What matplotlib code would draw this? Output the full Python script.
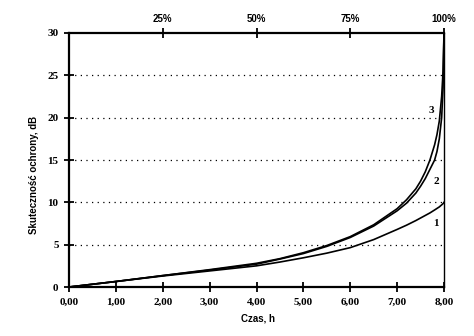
import matplotlib
matplotlib.use("Agg")
import matplotlib.pyplot as plt
from matplotlib.ticker import FixedLocator

# czas pracy, h
czas = [0.0, 1.0, 2.0, 3.0, 4.0, 4.5, 5.0, 5.5, 6.0, 6.5, 7.0, 7.2, 7.4, 7.5,
        7.6, 7.7, 7.8, 7.85, 7.9, 7.95, 7.98, 8.0]
# skutecznosc ochrony, dB
krzywa_1 = [0.0, 0.65, 1.3, 1.9, 2.5, 2.95, 3.45, 4.0, 4.65, 5.6, 6.8, 7.3, 7.85, 8.15,
            8.45, 8.75, 9.1, 9.28, 9.46, 9.7, 9.85, 10.0]
krzywa_2 = [0.0, 0.65, 1.35, 2.0, 2.7, 3.3, 3.95, 4.8, 5.85, 7.2, 9.0, 9.9, 11.1, 11.9,
            12.8, 13.9, 15.0, 16.0, 17.5, 20.0, 23.5, 30.0]
krzywa_3 = [0.0, 0.65, 1.35, 2.05, 2.8, 3.35, 4.05, 4.9, 5.95, 7.35, 9.25, 10.3, 11.6, 12.5,
            13.6, 15.0, 16.8, 18.0, 19.6, 22.5, 25.5, 30.0]

x_ticks = [0, 1, 2, 3, 4, 5, 6, 7, 8]
x_labels = ["0,00", "1,00", "2,00", "3,00", "4,00", "5,00", "6,00", "7,00", "8,00"]
y_ticks = [0, 5, 10, 15, 20, 25, 30]
top_ticks = [2, 4, 6, 8]
top_labels = ["25%", "50%", "75%", "100%"]

serif = {"family": "Liberation Serif", "weight": "bold", "size": 8}
sans = {"family": "Liberation Sans", "weight": "bold", "size": 7}

fig = plt.figure(figsize=(4.74, 3.36), dpi=100)
ax = fig.add_axes([0.1456, 0.1458, 0.7911, 0.756])

for y in krzywa_1, krzywa_2, krzywa_3:
    ax.plot(czas, y, color="black", lw=1.2)

for g in [5, 10, 15, 20, 25]:
    ax.axhline(g, color="black", lw=0.9, ls=(0, (1, 3.5)))

ax.set_xlim(0, 8)
ax.set_ylim(0, 30)
ax.set_xticks(x_ticks)
ax.set_xticklabels(x_labels, fontdict=serif)
ax.set_yticks(y_ticks)
ax.set_yticklabels([str(v) for v in y_ticks], fontdict=serif)
ax.tick_params(axis="both", direction="inout", length=7, width=1.3, pad=4)

for side in ["left", "bottom", "top"]:
    ax.spines[side].set_linewidth(1.6)
ax.spines["right"].set_linewidth(1.0)

top = ax.secondary_xaxis("top")
top.xaxis.set_major_locator(FixedLocator(top_ticks))
top.set_xticklabels(top_labels, fontdict=sans)
top.tick_params(direction="inout", length=7, width=1.3, pad=3)
top.spines["top"].set_visible(False)

ax.set_xlabel("Czas, h", fontdict=sans)
ax.xaxis.set_label_coords(0.505, -0.105)
ax.set_ylabel("Skuteczność ochrony, dB", fontdict=sans)
ax.yaxis.set_label_coords(-0.08, 0.44)

ax.text(7.83, 7.5, "1", fontdict=serif, ha="center", va="center")
ax.text(7.83, 12.5, "2", fontdict=serif, ha="center", va="center")
ax.text(7.73, 20.9, "3", fontdict=serif, ha="center", va="center")

fig.savefig("out.png", dpi=100)
